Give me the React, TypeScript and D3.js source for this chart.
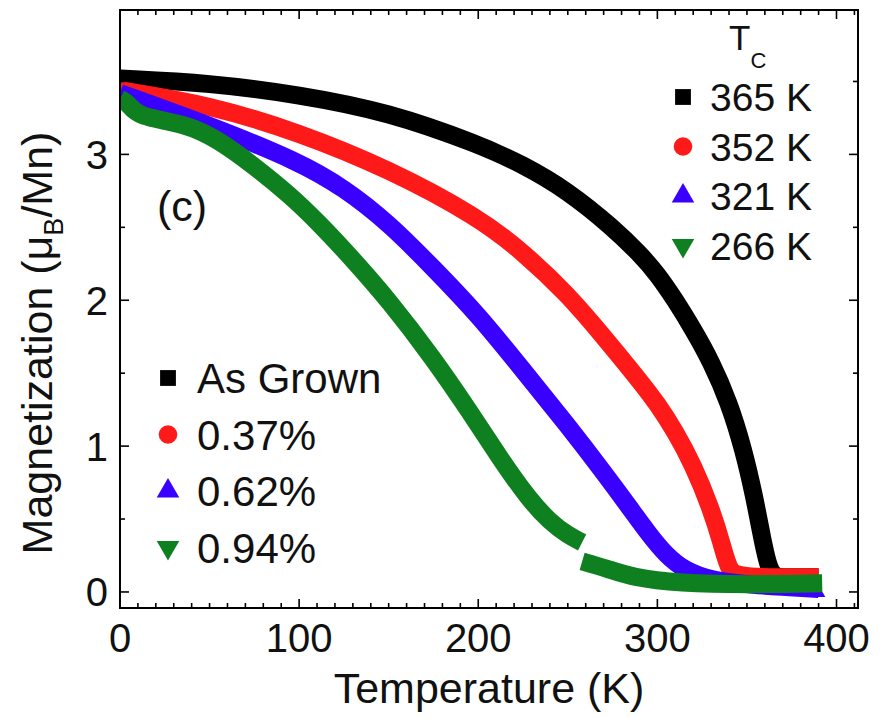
import React from 'react';
import * as d3 from 'd3';

// Temperature (K) / magnetization (muB/Mn)
const asGrownT = [0, 50, 100, 150, 200, 225, 250, 275, 290, 300, 310, 320, 330, 340, 348, 354, 358, 362, 366, 372, 390];
const asGrownM = [3.52, 3.49, 3.41, 3.29, 3.07, 2.93, 2.75, 2.5, 2.32, 2.18, 2.0, 1.8, 1.58, 1.3, 0.98, 0.66, 0.4, 0.16, 0.1, 0.1, 0.1];

const p37T = [0, 50, 100, 150, 200, 225, 250, 270, 290, 300, 310, 320, 330, 336, 340, 346, 390];
const p37M = [3.44, 3.34, 3.15, 2.9, 2.57, 2.33, 2.04, 1.75, 1.45, 1.29, 1.1, 0.87, 0.57, 0.33, 0.14, 0.1, 0.1];

const p62T = [0, 50, 100, 125, 150, 175, 200, 225, 250, 270, 285, 295, 305, 315, 330, 350, 390];
const p62M = [3.42, 3.2, 2.95, 2.77, 2.53, 2.22, 1.9, 1.52, 1.14, 0.82, 0.57, 0.4, 0.25, 0.15, 0.08, 0.05, 0.02];

// the 0.94% run has a step near 258 K, kept as two pieces
const p94T = [0, 5, 9, 37, 55, 75, 95, 111, 130, 150, 175, 195, 213, 228, 240, 250, 258];
const p94M = [3.38, 3.35, 3.26, 3.21, 3.1, 2.92, 2.72, 2.53, 2.28, 2.0, 1.6, 1.24, 0.9, 0.64, 0.48, 0.39, 0.34];
const p94bT = [258, 272, 286, 312, 350, 392];
const p94bM = [0.21, 0.16, 0.1, 0.06, 0.05, 0.06];

const tcLabels = ['365 K', '352 K', '321 K', '266 K'];
const sampleLabels = ['As Grown', '0.37%', '0.62%', '0.94%'];
const colors = ['#000000', '#ff1a1a', '#3a00ff', '#0f801f'];
const xTicks = [0, 100, 200, 300, 400];
const yTicks = [0, 1, 2, 3];

const W = 891;
const H = 718;
const margin = { left: 120, right: 33, top: 10, bottom: 110 };
const font = 'Liberation Sans, Arial, Helvetica, sans-serif';

export default function App() {
  const x = d3.scaleLinear().domain([0, 412]).range([margin.left, W - margin.right]);
  const y = d3.scaleLinear().domain([-0.11, 3.99]).range([H - margin.bottom, margin.top]);
  const x0 = margin.left, x1 = W - margin.right, y0 = margin.top, y1 = H - margin.bottom;

  const line = d3.line<[number, number]>()
    .x(d => x(d[0]))
    .y(d => y(d[1]))
    .curve(d3.curveBasis);

  const zip = (t: number[], m: number[]) => t.map((v, i) => [v, m[i]] as [number, number]);
  const series = [
    [zip(asGrownT, asGrownM)],
    [zip(p37T, p37M)],
    [zip(p62T, p62M)],
    [zip(p94T, p94M), zip(p94bT, p94bM)],
  ];

  const symbols = [
    d3.symbol().type(d3.symbolSquare).size(250)(),
    d3.symbol().type(d3.symbolCircle).size(270)(),
    d3.symbol().type(d3.symbolTriangle).size(220)(),
    d3.symbol().type(d3.symbolTriangle).size(220)(),
  ];
  const rot = [0, 0, 0, 180];

  const xMinor = d3.range(0, 411, 10);
  const yMinor = d3.range(0, 4.0, 0.5);
  const lastBlue = series[2][0][series[2][0].length - 1];

  return (
    <svg width={W} height={H} style={{ position: 'absolute', left: 0, top: 0, background: '#fff' }} fontFamily={font}>
      <defs>
        <clipPath id="plot">
          <rect x={x0} y={y0} width={x1 - x0} height={y1 - y0} />
        </clipPath>
      </defs>

      {/* data */}
      <g clipPath="url(#plot)">
        {series.map((segs, i) => (
          <g key={i}>
            {segs.map((s, j) => (
              <path key={j} d={line(s) || ''} fill="none" stroke={colors[i]} strokeWidth={18} strokeLinejoin="round" strokeLinecap="butt" />
            ))}
            {i === 2 && (
              <path d={symbols[2]} fill={colors[2]} transform={`translate(${x(lastBlue[0])},${y(lastBlue[1]) + 4}) scale(0.6)`} />
            )}
          </g>
        ))}
      </g>

      {/* frame */}
      <rect x={x0} y={y0} width={x1 - x0} height={y1 - y0} fill="none" stroke="#000" strokeWidth={2} />

      {/* ticks */}
      {xMinor.map(t => {
        const len = t % 100 === 0 ? 9 : 5;
        return (
          <g key={'x' + t} stroke="#000" strokeWidth={1.6}>
            <line x1={x(t)} x2={x(t)} y1={y1} y2={y1 - len} />
            <line x1={x(t)} x2={x(t)} y1={y0} y2={y0 + len} />
          </g>
        );
      })}
      {yMinor.map(v => {
        const len = v % 1 === 0 ? 9 : 5;
        return (
          <g key={'y' + v} stroke="#000" strokeWidth={1.6}>
            <line x1={x0} x2={x0 + len} y1={y(v)} y2={y(v)} />
            <line x1={x1} x2={x1 - len} y1={y(v)} y2={y(v)} />
          </g>
        );
      })}

      {/* tick labels */}
      {xTicks.map(t => (
        <text key={'xl' + t} x={x(t)} y={652} textAnchor="middle" fontSize={40} fill="#111">{t}</text>
      ))}
      {yTicks.map(v => (
        <text key={'yl' + v} x={108} y={y(v)} dy="0.36em" textAnchor="end" fontSize={40} fill="#111">{v}</text>
      ))}

      {/* axis titles */}
      <text x={(x0 + x1) / 2} y={703} textAnchor="middle" fontSize={43} fill="#111">Temperature (K)</text>
      <text transform={`translate(52,${343}) rotate(-90)`} textAnchor="middle" fontSize={43} fill="#111">
        Magnetization (μ<tspan fontSize={27} dy={11}>B</tspan><tspan dy={-11}>/Mn)</tspan>
      </text>

      {/* panel label */}
      <text x={157} y={221} fontSize={43} fill="#111">(c)</text>

      {/* Tc legend */}
      <text x={729} y={50} fontSize={35} fill="#111">T<tspan fontSize={22} dy={18}>C</tspan></text>
      {tcLabels.map((lab, i) => {
        const cy = 97 + i * 49.5;
        return (
          <g key={'tc' + i}>
            <path d={symbols[i]} fill={colors[i]} transform={`translate(683,${cy}) rotate(${rot[i]})`} />
            <text x={710} y={cy} dy="0.36em" fontSize={39} fill="#111">{lab}</text>
          </g>
        );
      })}

      {/* sample legend */}
      {sampleLabels.map((lab, i) => {
        const cy = 378 + i * 56.5;
        return (
          <g key={'s' + i}>
            <path d={symbols[i]} fill={colors[i]} transform={`translate(168,${cy}) rotate(${rot[i]})`} />
            <text x={197} y={cy} dy="0.36em" fontSize={42} fill="#111">{lab}</text>
          </g>
        );
      })}
    </svg>
  );
}
